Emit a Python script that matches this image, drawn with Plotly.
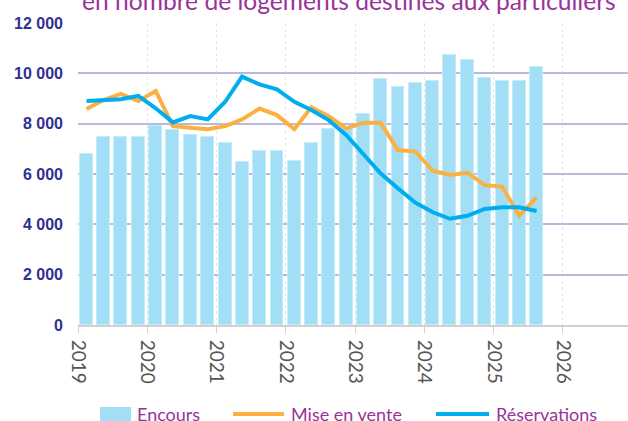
import plotly.graph_objects as go

quarters = ["2019-02-15", "2019-05-15", "2019-08-15", "2019-11-15",
            "2020-02-15", "2020-05-15", "2020-08-15", "2020-11-15",
            "2021-02-15", "2021-05-15", "2021-08-15", "2021-11-15",
            "2022-02-15", "2022-05-15", "2022-08-15", "2022-11-15",
            "2023-02-15", "2023-05-15", "2023-08-15", "2023-11-15",
            "2024-02-15", "2024-05-15", "2024-08-15", "2024-11-15",
            "2025-02-15", "2025-05-15", "2025-08-15"]

encours = [6780, 7470, 7470, 7470, 7920, 7730, 7550, 7470,
           7220, 6460, 6910, 6910, 6530, 7220, 7790, 7800,
           8370, 9760, 9440, 9630, 9690, 10710, 10520, 9810,
           9690, 9690, 10260]

mise_en_vente = [8580, 8940, 9180, 8900, 9300, 7900, 7840, 7780,
                 7900, 8170, 8600, 8340, 7780, 8650, 8300, 7810,
                 8040, 8040, 6950, 6890, 6130, 5960, 6050, 5560,
                 5490, 4340, 5070]

reservations = [8900, 8920, 8970, 9100, 8610, 8050, 8300, 8170,
                8870, 9870, 9560, 9360, 8870, 8540, 8140, 7550,
                6750, 6030, 5430, 4860, 4480, 4220, 4340, 4610,
                4680, 4680, 4530]

y_ticks = [0, 2000, 4000, 6000, 8000, 10000, 12000]
y_tick_labels = ["0", "2 000", "4 000", "6 000", "8 000", "10 000", "12 000"]

series_names = ["Encours", "Mise en vente", "Réservations"]
title_text = "en nombre de logements destinés aux particuliers"

purple = "#993399"
navy = "#2e3192"
bar_color = "#a2dff6"
orange = "#fbb040"
blue = "#00aeef"

fig = go.Figure()
fig.add_trace(go.Bar(
    x=quarters, y=encours, name=series_names[0],
    marker=dict(color=bar_color, line=dict(color="#c4ecfa", width=1)),
    width=68 * 86400000,
))
fig.add_trace(go.Scatter(
    x=quarters, y=mise_en_vente, name=series_names[1], mode="lines",
    line=dict(color=orange, width=4),
))
fig.add_trace(go.Scatter(
    x=quarters, y=reservations, name=series_names[2], mode="lines",
    line=dict(color=blue, width=4),
))

# custom legend / title positions (paper coords; plot spans x 78..628 px, y 23..325 px)
W, H, L, T = 550.0, 302.0, 78.0, 23.0
def px(x):
    return (x - L) / W
def py(y):
    return (T + H - y) / H

# title (partially cut at the top, as in the reference)
fig.add_annotation(
    text=title_text, xref="paper", yref="paper", x=px(80), y=py(17),
    xanchor="left", yanchor="bottom", showarrow=False,
    font=dict(family="Lato", size=24.6, color=purple),
)

leg_y = 414
fig.add_shape(type="rect", xref="paper", yref="paper",
              x0=px(100), x1=px(131), y0=py(407), y1=py(422),
              fillcolor=bar_color, line=dict(width=0))
fig.add_shape(type="line", xref="paper", yref="paper",
              x0=px(233), x1=px(284), y0=py(leg_y), y1=py(leg_y),
              line=dict(color=orange, width=4))
fig.add_shape(type="line", xref="paper", yref="paper",
              x0=px(436), x1=px(489), y0=py(leg_y), y1=py(leg_y),
              line=dict(color=blue, width=4))
for name, xl in zip(series_names, [135, 289, 494]):
    fig.add_annotation(
        text=name, xref="paper", yref="paper", x=px(xl), y=py(leg_y),
        xanchor="left", yanchor="middle", showarrow=False,
        font=dict(family="Lato", size=18, color=purple),
    )

fig.update_layout(
    width=628, height=421,
    margin=dict(l=78, r=0, t=23, b=96, autoexpand=False),
    paper_bgcolor="white", plot_bgcolor="white",
    bargap=0,
    showlegend=False,
    xaxis=dict(
        type="date", range=["2019-01-01", "2026-12-10"],
        dtick="M12", tick0="2019-01-01", tickformat="%Y",
        tickangle=90, tickfont=dict(family="Lato", size=19, color="#555555"),
        showgrid=True, gridcolor="#e4e4e4", griddash="dot", gridwidth=1,
        showline=True, linecolor="#d0d0d0", linewidth=2,
        ticks="outside", ticklen=6, tickcolor="#d0d0d0", tickwidth=1,
        ticklabelstandoff=3,
        zeroline=False, automargin=False,
    ),
    yaxis=dict(
        range=[0, 12000], tickvals=y_ticks, ticktext=y_tick_labels,
        tickfont=dict(family="Liberation Sans", size=16, color=navy, weight="bold"),
        showgrid=True, gridcolor="#b9b9de", gridwidth=1.5,
        zeroline=False, showline=False, ticklabelstandoff=14,
        automargin=False,
    ),
)

fig.write_html("out.html", config={"displayModeBar": False},
               post_script="document.body.style.margin='0';document.body.style.overflow='hidden';")
